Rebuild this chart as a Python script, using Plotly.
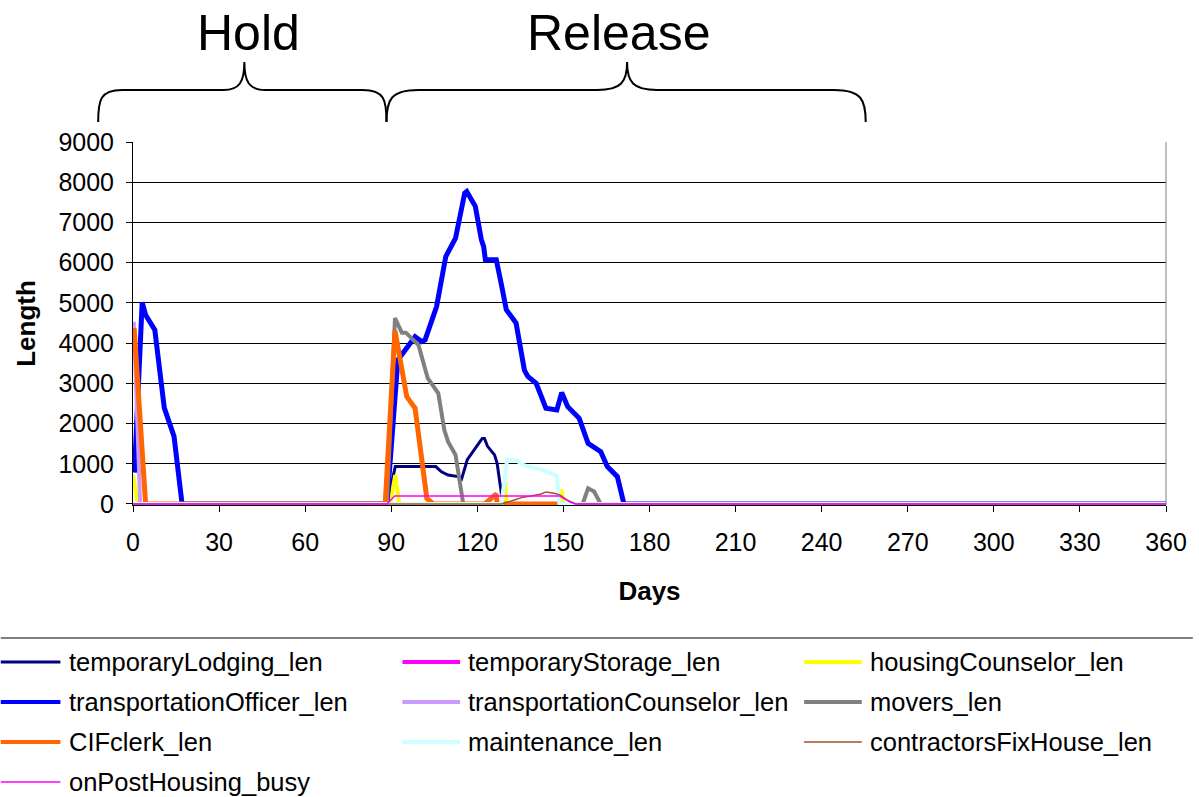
import plotly.graph_objects as go

# ---- series data (day, queue length) ----
temporaryLodging_days = [0, 88.5, 91.4, 105.5, 107.5, 109.8, 113.3, 114.5, 116.5, 119, 121.7, 122.5, 123.5, 126, 126.9, 128.9, 360]
temporaryLodging_vals = [0, 0, 930, 930, 800, 720, 680, 620, 1100, 1350, 1630, 1630, 1440, 1220, 1010, 0, 0]

temporaryStorage_days = [0, 360]
temporaryStorage_vals = [0, 0]

housingCounselor_days = [0, 1.7, 89.6, 91.4, 92.8, 128.6, 129.5, 130.4, 148.5, 149.3, 150.1, 360]
housingCounselor_vals = [720, 0, 0, 720, 0, 0, 510, 0, 0, 350, 0, 0]

transportationOfficer_days = [0.5, 3.2, 4.4, 7.6, 10.9, 14.3, 17.1, 88.5, 92.3, 98.3, 100.6, 101.8, 105.8, 107,
                              109, 112.4, 115.6, 116.3, 119.3, 121.4, 122.2, 122.8, 126.6, 128.3, 130.1, 133.5,
                              136.4, 137.6, 140.5, 143.9, 147.7, 149.4, 151.5, 155.5, 158.6, 163, 165.3, 168.8,
                              171.1, 360]
transportationOfficer_vals = [780, 5010, 4700, 4330, 2390, 1680, 0, 0, 3580, 4160, 4040, 4080, 4910, 5320,
                              6150, 6610, 7730, 7770, 7400, 6570, 6400, 6070, 6070, 5490, 4830, 4500,
                              3330, 3170, 3000, 2380, 2340, 2770, 2420, 2130, 1510, 1300, 930, 680,
                              0, 0]

transportationCounselor_days = [0.3, 2.5, 360]
transportationCounselor_vals = [4530, 0, 0]

movers_days = [0, 88.5, 91.3, 93.7, 95.1, 99.5, 102.7, 106.4, 108.5, 109.8, 112.4, 115.1, 156.7, 158.6, 160.7, 163, 360]
movers_vals = [0, 0, 4620, 4260, 4260, 3950, 3130, 2750, 1840, 1550, 1220, 0, 0, 390, 310, 0, 0]

CIFclerk_days = [0.4, 4.4, 87.9, 91.3, 95.4, 98.3, 102.4, 104.7, 122.6, 126.6, 126.9, 148.5]
CIFclerk_vals = [4370, 0, 0, 4310, 2670, 2380, 140, 0, 0, 250, 0, 0]

maintenance_days = [0, 128.4, 130.4, 133.5, 135.9, 142.8, 147.7, 148.6, 360]
maintenance_vals = [0, 0, 1110, 1090, 970, 850, 700, 0, 0]

contractorsFixHouse_days = [0, 128.4, 132.9, 135.9, 138.7, 142.2, 143.9, 146.8, 148.9, 151.2, 154.3, 360]
contractorsFixHouse_vals = [0, 0, 100, 170, 200, 250, 300, 265, 220, 100, 0, 0]

onPostHousing_days = [0, 88.5, 91.2, 148.6, 150.5, 152.5, 154.3, 360]
onPostHousing_vals = [0, 0, 200, 200, 120, 40, 0, 0]

x_ticks = list(range(0, 361, 30))
y_ticks = list(range(0, 9001, 1000))

series = [
    ("temporaryLodging_len", temporaryLodging_days, temporaryLodging_vals, "#000080", 3),
    ("temporaryStorage_len", temporaryStorage_days, temporaryStorage_vals, "#FF00FF", 4),
    ("housingCounselor_len", housingCounselor_days, housingCounselor_vals, "#FFFF00", 4),
    ("transportationOfficer_len", transportationOfficer_days, transportationOfficer_vals, "#0000FF", 5),
    ("transportationCounselor_len", transportationCounselor_days, transportationCounselor_vals, "#CC99FF", 4),
    ("movers_len", movers_days, movers_vals, "#808080", 4),
    ("CIFclerk_len", CIFclerk_days, CIFclerk_vals, "#FF6600", 5),
    ("maintenance_len", maintenance_days, maintenance_vals, "#CCFFFF", 4),
    ("contractorsFixHouse_len", contractorsFixHouse_days, contractorsFixHouse_vals, "#A0522D", 1.5),
    ("onPostHousing_busy", onPostHousing_days, onPostHousing_vals, "#FF00FF", 1.5),
]

FONT = "Liberation Sans, Arial, sans-serif"
W, H = 1199, 797
L, R, T, B = 133, 27, 142, 292
PW, PH = W - L - R, H - T - B


def px(xp):
    return (xp - L) / PW


def py(yp):
    return (H - B - yp) / PH


fig = go.Figure()
for name, xs, ys, color, width in series:
    fig.add_trace(go.Scatter(x=xs, y=ys, mode="lines", name=name,
                             line=dict(color=color, width=width), showlegend=False))

shapes = []
annotations = []

# phase braces above the plot
def brace_path(pts):
    s = "M%.4f,%.4f" % (px(pts[0][0]), py(pts[0][1]))
    for seg in pts[1:]:
        if seg[0] == "L":
            s += " L%.4f,%.4f" % (px(seg[1]), py(seg[2]))
        else:
            (_, a, b, c) = seg
            s += " C%.4f,%.4f %.4f,%.4f %.4f,%.4f" % (px(a[0]), py(a[1]), px(b[0]), py(b[1]), px(c[0]), py(c[1]))
    return s

hold = [(98, 122), ("C", (98, 100), (100, 90), (122, 90)), ("L", 224, 90),
        ("C", (240, 90), (245, 82), (245, 62)), ("C", (245, 82), (250, 90), (266, 90)),
        ("L", 364, 90), ("C", (386, 90), (388, 100), (388, 122))]
release = [(388, 122), ("C", (388, 100), (392, 90), (420, 90)), ("L", 600, 90),
           ("C", (624, 90), (630, 82), (630, 62)), ("C", (630, 82), (636, 90), (660, 90)),
           ("L", 838, 90), ("C", (866, 90), (870, 100), (870, 122))]
for p in (hold, release):
    shapes.append(dict(type="path", path=brace_path(p), xref="paper", yref="paper",
                       line=dict(color="black", width=2)))

annotations.append(dict(text="Hold", x=px(249), y=py(33), xref="paper", yref="paper",
                        showarrow=False, font=dict(family=FONT, size=50, color="black"),
                        xanchor="center", yanchor="middle"))
annotations.append(dict(text="Release", x=px(621), y=py(33), xref="paper", yref="paper",
                        showarrow=False, font=dict(family=FONT, size=50, color="black"),
                        xanchor="center", yanchor="middle"))

# right edge of plot area
shapes.append(dict(type="line", xref="paper", yref="paper", x0=1, x1=1, y0=0, y1=1,
                   line=dict(color="#808080", width=1)))

# legend block
shapes.append(dict(type="line", xref="paper", yref="paper", x0=px(0), x1=px(W), y0=py(638), y1=py(638),
                   line=dict(color="black", width=1)))
col_line = [(0, 60), (404, 462), (808, 866)]
col_text = [67, 468, 872]
row_y = [662, 702, 742, 782]
for i, (name, xs, ys, color, width) in enumerate(series):
    r, c = divmod(i, 3)
    yy = py(row_y[r])
    shapes.append(dict(type="line", xref="paper", yref="paper",
                       x0=px(col_line[c][0]), x1=px(col_line[c][1]), y0=yy, y1=yy,
                       line=dict(color=color, width=min(width, 4))))
    annotations.append(dict(text=name, x=px(col_text[c]), y=yy, xref="paper", yref="paper",
                            showarrow=False, xanchor="left", yanchor="middle",
                            font=dict(family=FONT, size=25.5, color="black")))

fig.update_layout(
    width=W, height=H,
    margin=dict(l=L, r=R, t=T, b=B, pad=0),
    paper_bgcolor="white", plot_bgcolor="white",
    font=dict(family=FONT, size=25, color="black"),
    shapes=shapes, annotations=annotations,
    showlegend=False,
)
fig.update_xaxes(range=[0, 360], tickvals=x_ticks, ticktext=[str(v) for v in x_ticks],
                 showgrid=False, zeroline=False, showline=True, linecolor="black", linewidth=1,
                 ticks="outside", ticklen=6, tickcolor="black", layer="below traces",
                 ticklabelstandoff=9,
                 title=dict(text="<b>Days</b>", font=dict(family=FONT, size=26), standoff=26))
fig.update_yaxes(range=[-25, 9000], tickvals=y_ticks, ticktext=[str(v) for v in y_ticks],
                 showgrid=True, gridcolor="black", gridwidth=1, zeroline=False,
                 showline=True, linecolor="black", linewidth=1,
                 ticks="outside", ticklen=6, tickcolor="black", layer="below traces",
                 ticklabelstandoff=7,
                 title=dict(text="<b>Length</b>", font=dict(family=FONT, size=26), standoff=15))

fig.write_html("out.html")
